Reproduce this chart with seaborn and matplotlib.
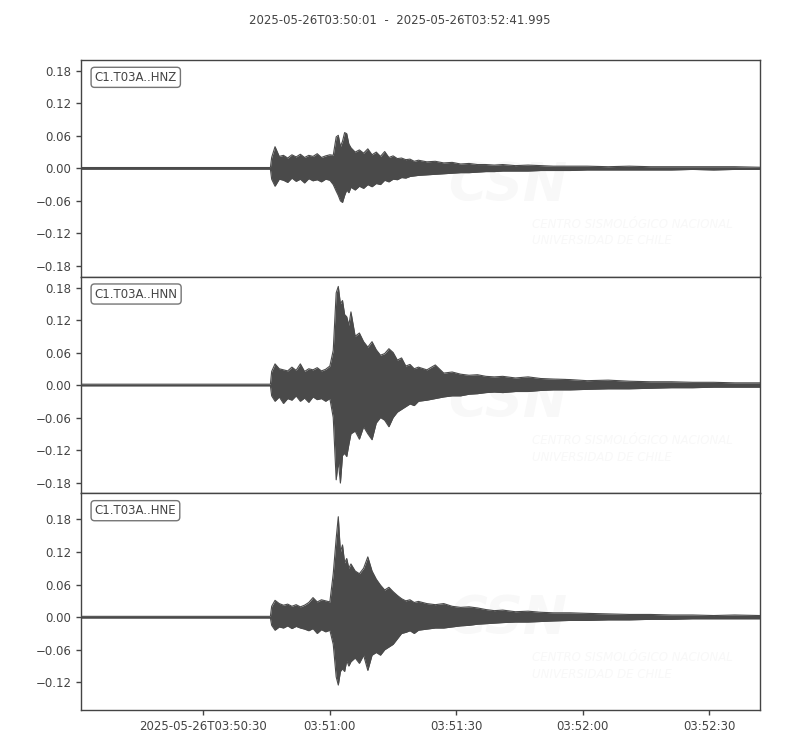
import matplotlib
matplotlib.use("Agg")
import matplotlib.pyplot as plt
import numpy as np
import seaborn as sns

# time window of the record (seconds after 03:50:01)
title_start = "2025-05-26T03:50:01"
title_end = "2025-05-26T03:52:41.995"
duration = 160.995

channels = ["C1.T03A..HNZ", "C1.T03A..HNN", "C1.T03A..HNE"]

# envelope: sample times (s) and upper / lower bounds
t_env = [0, 44.9, 45.2, 46, 47, 48, 49, 50, 51, 52, 53, 54, 55, 56, 57, 58, 59,
         59.8, 60.5, 61, 61.5, 62, 62.5, 63, 63.5, 64, 65, 66, 67, 68, 69, 70,
         71, 72, 73, 74, 75, 76, 77, 78, 79, 80, 82, 84, 86, 88, 90, 92, 94,
         96, 98, 100, 103, 106, 109, 112, 116, 120, 125, 130, 135, 140, 145,
         150, 155, 161]

hnz_top = [0.0015, 0.0015, 0.020, 0.040, 0.022, 0.024, 0.019, 0.025, 0.021, 0.026,
           0.020, 0.024, 0.022, 0.027, 0.020, 0.023, 0.025,
           0.024, 0.058, 0.061, 0.040, 0.050, 0.066, 0.064, 0.045, 0.038, 0.030,
           0.034, 0.028, 0.036, 0.025, 0.030,
           0.022, 0.031, 0.020, 0.023, 0.018, 0.019, 0.016, 0.017, 0.013, 0.015,
           0.012, 0.013, 0.010, 0.011, 0.008, 0.009, 0.007,
           0.007, 0.006, 0.007, 0.005, 0.006, 0.005, 0.004, 0.004, 0.004, 0.003,
           0.004, 0.003, 0.003, 0.003, 0.003, 0.003, 0.002]
hnz_bot = [-0.0015, -0.0015, -0.020, -0.033, -0.020, -0.022, -0.026, -0.018, -0.024,
           -0.020, -0.027, -0.019, -0.023, -0.021, -0.025, -0.020, -0.022,
           -0.030, -0.042, -0.050, -0.060, -0.063, -0.050, -0.040, -0.045, -0.035,
           -0.040, -0.033, -0.037, -0.030, -0.034, -0.028,
           -0.030, -0.022, -0.025, -0.020, -0.021, -0.017, -0.018, -0.015, -0.014,
           -0.013, -0.012, -0.011, -0.010, -0.009, -0.008, -0.008, -0.007,
           -0.006, -0.006, -0.005, -0.005, -0.005, -0.004, -0.004, -0.004, -0.003,
           -0.003, -0.003, -0.003, -0.003, -0.002, -0.003, -0.002, -0.002]

hnn_top = [0.0015, 0.0015, 0.025, 0.039, 0.030, 0.028, 0.026, 0.033, 0.027, 0.039,
           0.025, 0.030, 0.028, 0.032, 0.026, 0.029, 0.035,
           0.064, 0.170, 0.182, 0.150, 0.156, 0.130, 0.126, 0.110, 0.135, 0.090,
           0.096, 0.080, 0.070, 0.080, 0.065,
           0.055, 0.058, 0.067, 0.060, 0.046, 0.050, 0.035, 0.038, 0.030, 0.033,
           0.028, 0.037, 0.022, 0.024, 0.020, 0.018, 0.019,
           0.016, 0.015, 0.016, 0.013, 0.015, 0.012, 0.011, 0.010, 0.008, 0.009,
           0.007, 0.006, 0.006, 0.005, 0.005, 0.004, 0.004]
hnn_bot = [-0.0015, -0.0015, -0.020, -0.030, -0.022, -0.034, -0.025, -0.028, -0.020,
           -0.030, -0.024, -0.032, -0.022, -0.027, -0.025, -0.030, -0.025,
           -0.060, -0.175, -0.140, -0.181, -0.130, -0.126, -0.132, -0.110, -0.090,
           -0.085, -0.100, -0.077, -0.090, -0.101, -0.070,
           -0.060, -0.065, -0.077, -0.060, -0.050, -0.045, -0.040, -0.035, -0.038,
           -0.030, -0.028, -0.025, -0.022, -0.020, -0.020, -0.017, -0.016,
           -0.014, -0.013, -0.014, -0.012, -0.012, -0.010, -0.009, -0.009, -0.008,
           -0.007, -0.007, -0.006, -0.005, -0.005, -0.004, -0.004, -0.004]

hne_top = [0.0015, 0.0015, 0.020, 0.031, 0.025, 0.022, 0.024, 0.020, 0.023, 0.019,
           0.022, 0.027, 0.036, 0.028, 0.032, 0.030, 0.028,
           0.080, 0.145, 0.185, 0.120, 0.133, 0.100, 0.108, 0.090, 0.098, 0.085,
           0.080, 0.090, 0.111, 0.085, 0.070,
           0.059, 0.050, 0.055, 0.047, 0.040, 0.034, 0.030, 0.032, 0.027, 0.029,
           0.025, 0.023, 0.025, 0.020, 0.018, 0.019, 0.017,
           0.014, 0.012, 0.013, 0.010, 0.011, 0.009, 0.008, 0.008, 0.007, 0.006,
           0.005, 0.005, 0.004, 0.004, 0.003, 0.004, 0.003]
hne_bot = [-0.0015, -0.0015, -0.015, -0.024, -0.018, -0.020, -0.016, -0.021, -0.017,
           -0.020, -0.022, -0.025, -0.021, -0.030, -0.023, -0.027, -0.024,
           -0.050, -0.110, -0.125, -0.100, -0.095, -0.100, -0.080, -0.090, -0.082,
           -0.075, -0.085, -0.070, -0.098, -0.070, -0.065,
           -0.070, -0.060, -0.055, -0.050, -0.040, -0.030, -0.028, -0.025, -0.030,
           -0.024, -0.022, -0.020, -0.020, -0.018, -0.016, -0.015, -0.013,
           -0.012, -0.011, -0.010, -0.009, -0.009, -0.008, -0.007, -0.006, -0.006,
           -0.005, -0.005, -0.004, -0.004, -0.003, -0.003, -0.003, -0.003]

y_limits = [(-0.2, 0.2), (-0.2, 0.2), (-0.171, 0.228)]
y_ticks = [[-0.18, -0.12, -0.06, 0.0, 0.06, 0.12, 0.18],
           [-0.18, -0.12, -0.06, 0.0, 0.06, 0.12, 0.18],
           [-0.12, -0.06, 0.0, 0.06, 0.12, 0.18]]

x_ticks = [29, 59, 89, 119, 149]
x_tick_labels = ["2025-05-26T03:50:30", "03:51:00", "03:51:30", "03:52:00", "03:52:30"]

trace_color = "#4a4a4a"
text_color = "#444444"
mark_color = "#f8f8f8"

sns.set_theme(style="ticks", rc={
    "axes.edgecolor": "#444444",
    "axes.linewidth": 1.0,
    "xtick.color": text_color,
    "ytick.color": text_color,
    "xtick.labelcolor": text_color,
    "ytick.labelcolor": text_color,
    "xtick.labelsize": 8.5,
    "ytick.labelsize": 8.5,
    "xtick.major.size": 3.5,
    "ytick.major.size": 3.5,
    "xtick.major.width": 1.0,
    "ytick.major.width": 1.0,
})
plt.rcParams["font.family"] = ["DejaVu Sans"]

fig, axes = plt.subplots(3, 1, figsize=(8, 7.5), dpi=100, sharex=True)
fig.subplots_adjust(left=0.1013, right=0.95, top=0.92, bottom=0.0533, hspace=0)

envelopes = [(hnz_top, hnz_bot), (hnn_top, hnn_bot), (hne_top, hne_bot)]

for i, ax in enumerate(axes):
    top, bot = envelopes[i]

    # very faint watermark behind the trace
    ax.text(0.628, 0.42, "CSN", transform=ax.transAxes, ha="center", va="center",
            fontsize=38, fontweight="bold", fontstyle="italic", color=mark_color, zorder=0)
    ax.text(0.664, 0.242, "CENTRO SISMOLÓGICO NACIONAL", transform=ax.transAxes,
            ha="left", va="center", fontsize=8.5, fontstyle="italic", color=mark_color, zorder=0)
    ax.text(0.664, 0.165, "UNIVERSIDAD DE CHILE", transform=ax.transAxes,
            ha="left", va="center", fontsize=8.5, fontstyle="italic", color=mark_color, zorder=0)

    ax.fill_between(t_env, bot, top, color=trace_color, linewidth=0, zorder=2)
    sns.lineplot(x=t_env, y=top, ax=ax, color=trace_color, linewidth=0.8, zorder=3)
    sns.lineplot(x=t_env, y=bot, ax=ax, color=trace_color, linewidth=0.8, zorder=3)

    ax.set_xlim(0, duration)
    ax.set_ylim(*y_limits[i])
    ax.set_yticks(y_ticks[i])
    ax.set_yticklabels([f"{v:.2f}".replace("-", "\u2212") for v in y_ticks[i]])
    ax.set_ylabel("")
    ax.set_xlabel("")

    ax.text(0.02, 0.95, channels[i], transform=ax.transAxes, ha="left", va="top",
            fontsize=8.5, color=text_color, zorder=5,
            bbox=dict(boxstyle="round", fc="w", ec="#666666", lw=1.0, alpha=0.9))

    if i < 2:
        ax.tick_params(axis="x", bottom=False, labelbottom=False)

axes[-1].set_xticks(x_ticks)
axes[-1].set_xticklabels(x_tick_labels)

fig.text(0.5, 1 - 20 / 750, f"{title_start}  -  {title_end}", ha="center", va="center",
         fontsize=8.5, color=text_color)

fig.savefig("out.png", dpi=100)
